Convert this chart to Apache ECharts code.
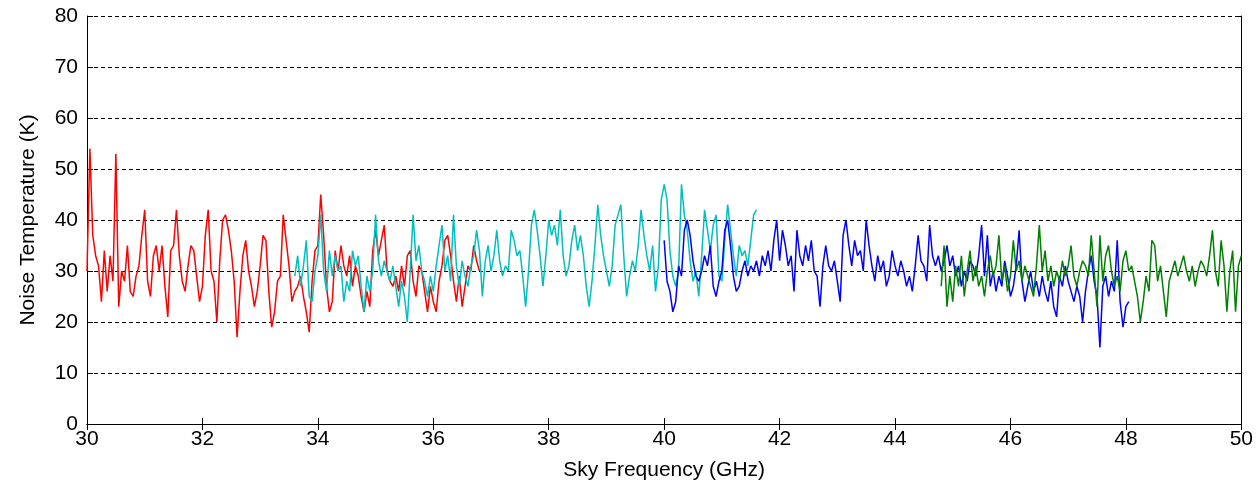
<!DOCTYPE html>
<html>
<head>
<meta charset="utf-8">
<script src="https://cdn.jsdelivr.net/npm/echarts@6/dist/echarts.min.js"></script>
<style>
  html, body { margin: 0; padding: 0; background: #fff; }
  #chart { width: 1256px; height: 491px; }
</style>
</head>
<body>
<div id="chart"></div>
<script>
// sweep step in GHz, every band is sampled on the same grid
const stepGHz = 0.05;

// band 1 (red): 30.00 .. 36.80 GHz
const redStart = 30.0;
const redTemps = [
  30, 54, 37, 33, 31, 24, 34, 26, 33, 28, 53, 23, 30, 28, 35, 26, 25, 29, 31, 37,
  42, 28, 25, 33, 35, 30, 35, 27, 21, 34, 35, 42, 33, 28, 26, 31, 35, 34, 29, 24,
  27, 37, 42, 30, 28, 20, 32, 40, 41, 38, 34, 28, 17, 26, 33, 36, 30, 27, 23, 26,
  31, 37, 36, 26, 19, 22, 28, 29, 41, 36, 31, 24, 26, 27, 29, 25, 22, 18, 28, 34,
  35, 45, 37, 27, 22, 24, 34, 30, 35, 31, 29, 33, 27, 31, 29, 25, 22, 26, 23, 34,
  38, 33, 36, 39, 30, 28, 27, 29, 26, 31, 27, 33, 34, 28, 25, 31, 30, 26, 22, 27,
  24, 22, 28, 31, 36, 37, 33, 28, 24, 29, 23, 27, 31, 30, 35, 32, 30
];

// band 2 (cyan): 33.60 .. 41.60 GHz
const cyanStart = 33.6;
const cyanTemps = [
  29, 33, 27, 31, 36, 25, 24, 30,
  33, 41, 30, 26, 34, 29, 33, 30, 31, 24, 28, 26, 34, 31, 33, 27, 22, 29, 26, 30,
  41, 32, 29, 32, 30, 28, 31, 27, 23, 28, 25, 20, 30, 41, 32, 35, 30, 28, 25, 29,
  26, 31, 35, 39, 30, 33, 28, 41, 31, 27, 32, 29, 27, 31, 33, 38, 34, 25, 32, 35,
  30, 33, 38, 32, 29, 31, 30, 38, 36, 33, 34, 29, 23, 30, 39, 42, 38, 33, 27, 33,
  40, 37, 39, 35, 42, 33, 29, 31, 36, 39, 34, 37, 33, 27, 23, 28, 35, 43, 37, 33,
  30, 27, 31, 39, 41, 43, 33, 25, 29, 32, 30, 35, 42, 37, 33, 30, 35, 26, 31, 44,
  47, 44, 34, 29, 27, 30, 47, 41, 38, 32, 28, 30, 25, 33, 42, 38, 34, 39, 41, 29,
  28, 36, 43, 38, 33, 29, 35, 33, 34, 31, 36, 41, 42
];

// band 3 (blue): 40.00 .. 48.05 GHz
const blueStart = 40.0;
const blueTemps = [
  36, 28, 26, 22, 24, 31, 29, 38, 40, 37, 32, 29, 28, 30, 33, 31, 35, 27, 25, 28,
  30, 38, 40, 35, 29, 26, 27, 30, 32, 29, 31, 30, 32, 29, 33, 31, 34, 30, 36, 40,
  32, 38, 35, 31, 33, 26, 38, 33, 31, 35, 32, 36, 30, 29, 23, 31, 35, 31, 30, 32,
  28, 24, 37, 40, 35, 31, 36, 33, 34, 30, 40, 35, 31, 28, 33, 30, 32, 27, 29, 34,
  31, 29, 32, 30, 27, 29, 26, 31, 37, 32, 31, 28, 39, 33, 31, 33, 30, 32, 35, 31,
  33, 29, 31, 27, 30, 28, 32, 31, 29, 33, 39, 29, 37, 27, 30, 26, 29, 27, 32, 29,
  25, 27, 31, 38, 28, 24, 27, 30, 26, 28, 25, 29, 26, 24, 28, 23, 21, 29, 27, 31,
  28, 26, 24, 27, 25, 20, 26, 30, 33, 28, 25, 15, 27, 29, 25, 28, 26, 36, 24, 19,
  23, 24
];

// band 4 (green): 44.80 .. 50.00 GHz
const greenStart = 44.8;
const greenTemps = [
  27, 35, 23, 29,
  24, 31, 27, 33, 25, 30, 34, 28, 31, 27, 29, 25, 30, 33, 29, 31, 37, 28, 31, 26,
  29, 36, 30, 32, 28, 31, 29, 27, 25, 31, 39, 30, 34, 28, 31, 27, 30, 28, 32, 29,
  31, 35, 29, 27, 30, 32, 31, 29, 37, 30, 23, 37, 28, 33, 35, 30, 27, 29, 26, 32,
  34, 30, 31, 28, 25, 20, 24, 29, 26, 36, 35, 28, 31, 26, 21, 28, 30, 32, 29, 31,
  33, 30, 28, 31, 27, 30, 32, 31, 29, 33, 38, 30, 27, 36, 31, 22, 30, 34, 22, 31,
  33
];

const xTicks = { min: 30, max: 50, interval: 2 };
const yTicks = { min: 0, max: 80, interval: 10 };

function pairs(start, temps) {
  return temps.map((t, i) => [+(start + i * stepGHz).toFixed(2), t]);
}

const chart = echarts.init(document.getElementById("chart"));
const font = "'Liberation Sans', Arial, sans-serif";
const frame = { show: true, lineStyle: { color: "#000", width: 1 } };
const tick = { show: true, inside: true, length: 6, lineStyle: { color: "#000" } };

const line = (name, start, temps, color) => ({
  name, type: "line", data: pairs(start, temps),
  showSymbol: false, symbol: "none", smooth: false,
  lineStyle: { color, width: 1.5 }, itemStyle: { color },
  xAxisIndex: 0, yAxisIndex: 0,
});

chart.setOption({
  animation: false,
  backgroundColor: "#fff",
  grid: { left: 87, right: 13, top: 16, bottom: 67 },
  xAxis: [
    {
      type: "value", position: "bottom", ...xTicks,
      name: "Sky Frequency (GHz)", nameLocation: "middle", nameGap: 36,
      nameTextStyle: { fontFamily: font, fontSize: 21, color: "#000" },
      axisLine: frame, axisTick: tick, splitLine: { show: false },
      axisLabel: { fontFamily: font, fontSize: 21, color: "#000", margin: 5 },
    },
    {
      type: "value", position: "top", ...xTicks,
      axisLine: frame, axisTick: tick, splitLine: { show: false },
      axisLabel: { show: false },
    },
  ],
  yAxis: [
    {
      type: "value", position: "left", ...yTicks,
      name: "Noise Temperature (K)", nameLocation: "middle", nameGap: 48,
      nameTextStyle: { fontFamily: font, fontSize: 21, color: "#000" },
      axisLine: frame, axisTick: tick,
      splitLine: { show: true, lineStyle: { color: "#000", width: 1, type: [4, 3] } },
      axisLabel: { fontFamily: font, fontSize: 21, color: "#000", margin: 9 },
    },
    {
      type: "value", position: "right", ...yTicks,
      axisLine: frame, axisTick: tick, splitLine: { show: false },
      axisLabel: { show: false },
    },
  ],
  series: [
    line("30-37 GHz", redStart, redTemps, "#ff0000"),
    line("33-42 GHz", cyanStart, cyanTemps, "#00bfbf"),
    line("40-48 GHz", blueStart, blueTemps, "#0000ff"),
    line("45-50 GHz", greenStart, greenTemps, "#008000"),
  ],
});
</script>
</body>
</html>
